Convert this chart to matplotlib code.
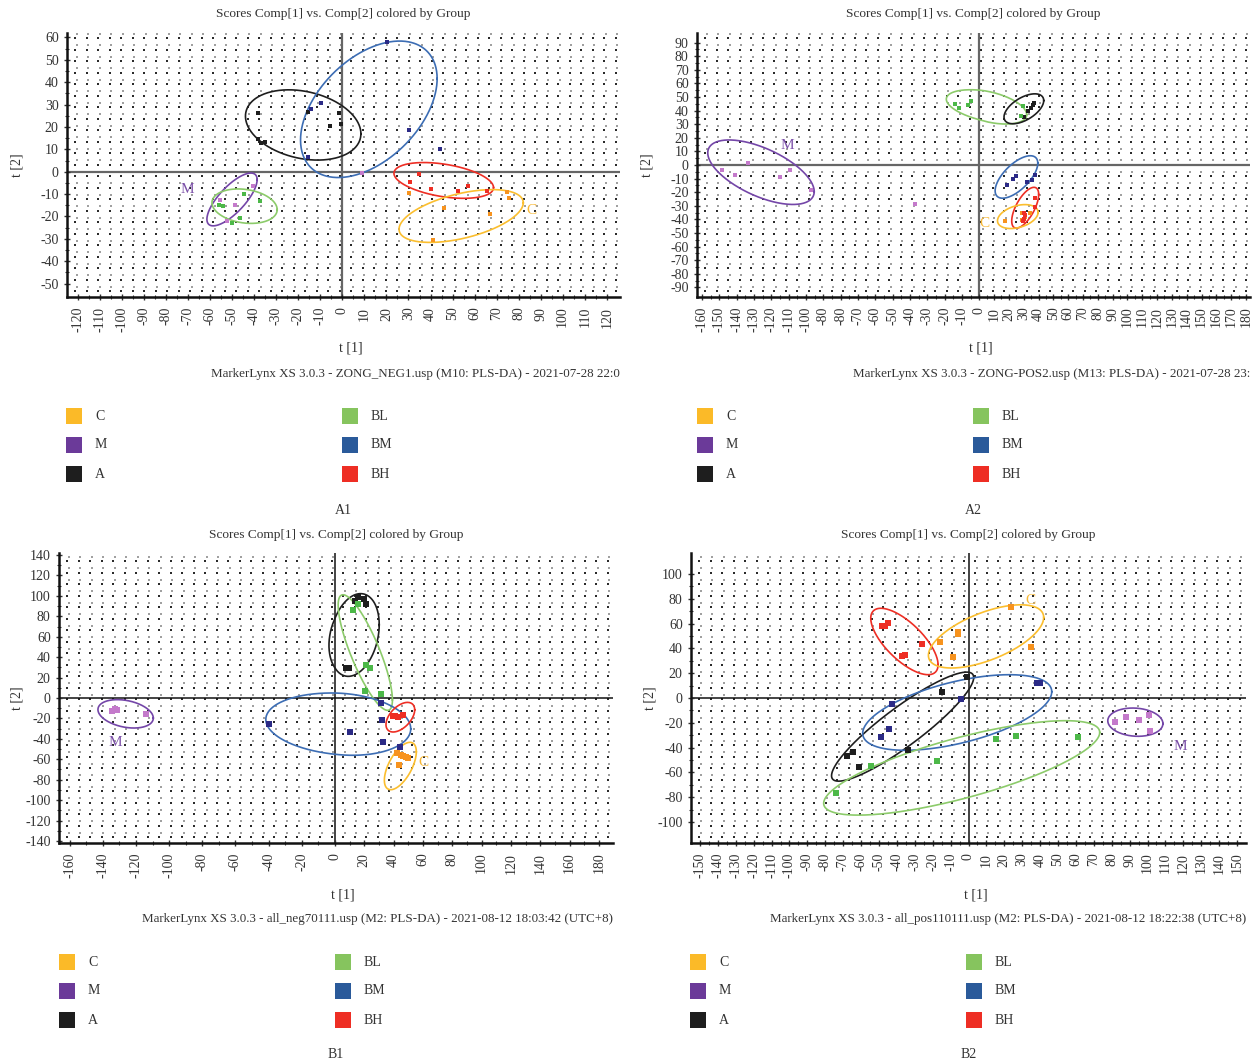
import numpy as np
import matplotlib
matplotlib.use("Agg")
import matplotlib.pyplot as plt
from matplotlib.patches import Rectangle
from matplotlib.ticker import FixedLocator

plt.rcParams['font.family'] = ['Liberation Serif', 'DejaVu Serif']

W, H = 1256, 1064

# ---------------- data ----------------
groups = ['C', 'M', 'A', 'BL', 'BM', 'BH']
legend_colors = ['#FBBA28', '#6B3A99', '#1E1E1E', '#86C45E', '#2A5A9A', '#EE2E24']
point_colors = {'C': '#F7931E', 'M': '#C47ACB', 'A': '#1E1E1E',
                'BL': '#4CB848', 'BM': '#2B2A86', 'BH': '#EE2E24'}
ellipse_colors = {'C': '#FBBE2E', 'M': '#7446A8', 'A': '#1E1E1E',
                  'BL': '#8CCB6A', 'BM': '#3C6DB4', 'BH': '#EE2E24'}

# Panel A1 scores (t[1], t[2])
a1_C = [(30.1, -9.5), (46.2, -16.2), (67, -18.9), (74.5, -9.2), (75.4, -11.8), (41, -30.4)]
a1_M = [(-40.5, -6.2), (-55.5, -12.8), (-48.7, -14.7), (-52.4, -21.9), (8.8, -0.7)]
a1_A = [(-38.1, 26.1), (-38.4, 14.5), (-37.0, 12.7), (-35.3, 13.1), (-15.8, 26.5),
        (-1.5, 26.2), (-5.6, 20.4), (-0.5, 21.2)]
a1_BL = [(-44.5, -9.8), (-37.3, -13.0), (-56.0, -14.7), (-54.2, -15.2), (-46.5, -20.5), (-50.3, -22.8)]
a1_BM = [(20.1, 57.8), (-9.9, 30.6), (-14.3, 27.9), (-15.8, 6.4), (30.3, 18.6), (44.1, 10.1)]
a1_BH = [(34.6, -0.8), (30.6, -4.4), (40.0, -7.9), (52.3, -8.5), (57.0, -6.2), (65.7, -8.6)]
# ellipses: (group, centre x, centre y, half-extent x, half-extent y, correlation)
a1_ell = [('A', -17.8, 20.9, 26.2, 15.7, -0.25), ('BM', 12.0, 27.9, 31.0, 30.5, 0.45),
          ('BH', 46.0, -3.9, 22.6, 8.0, -0.4), ('C', 53.9, -19.8, 28.2, 11.8, 0.5),
          ('M', -50.1, -12.4, 11.4, 11.8, 0.75), ('BL', -44.4, -15.4, 14.8, 7.7, -0.2)]
a1_labels = [('M', -70.3, -8.0), ('C', 85.8, -17.4)]

# Panel A2
a2_C = [(17.5, -41.5), (29, -35), (30.5, -35.5), (34.5, -35), (29, -40.5), (31, -38.5)]
a2_M = [(-148.5, -3.5), (-141.1, -7.7), (-133.6, 1.6), (-115.2, -8.9), (-109.4, -4.0),
        (-96.8, -18.2), (-37, -28.9)]
a2_A = [(37, 45.5), (36.5, 44), (35, 42), (33, 39.5), (30, 35)]
a2_BL = [(-13.8, 44.5), (-11.9, 42), (-6.7, 44), (-4.5, 47), (29.6, 43.3), (28, 36)]
a2_BM = [(25, -8), (22.5, -10.5), (18.5, -14.5), (32, -12.5), (35.5, -11), (37.5, -7.5)]
a2_BH = [(37.5, -24), (37.5, -30.5), (30.5, -35), (31, -37), (30.5, -39.5), (29.5, -41)]
a2_ell = [('BL', 6.5, 42.7, 25.5, 12.6, -0.45), ('A', 30.1, 41.3, 13.4, 11.0, 0.55),
          ('M', -125.9, -5.3, 30.7, 23.7, -0.6), ('BM', 25.1, -8.8, 14.4, 15.6, 0.65),
          ('BH', 31.0, -31.4, 9.1, 15.0, 0.65), ('C', 26.0, -37.9, 13.7, 8.8, 0.35)]
a2_labels = [('M', -110.6, 14.3), ('C', 3.8, -43.1)]

# Panel B1
b1_C = [(42.6, -53.9), (44.8, -55.5), (46.7, -56.5), (48.6, -57.8), (50, -58.7), (43.4, -65.3)]
b1_M = [(-134.5, -13.1), (-132.8, -10.4), (-131.6, -12.1), (-113.9, -15.3)]
b1_A = [(13.7, 95.3), (15.9, 98.6), (19.8, 97.3), (21.2, 92.4), (7.7, 29.7), (9.6, 29.7)]
b1_BL = [(12.4, 86.5), (15.9, 92.4), (21.2, 32.6), (23.9, 29), (20.6, 7.2), (31.6, 4.2)]
b1_BM = [(-39.5, -25.1), (10.4, -33.6), (31.6, -4.6), (32.4, -21.9), (33, -43.4), (44.5, -48.3)]
b1_BH = [(39.8, -17.3), (41.2, -18), (43.1, -18.3), (46.2, -17)]
b1_ell = [('A', 13.3, 61.7, 16.9, 40.5, 0.25), ('BL', 20.7, 44.5, 18.5, 56.6, -0.82),
          ('BM', 5.0, -25.6, 46.7, 30.5, -0.15), ('BH', 44.6, -18.8, 9.8, 14.5, 0.5),
          ('C', 44.6, -66.6, 10.9, 23.2, 0.6), ('M', -126.3, -15.5, 16.7, 13.9, -0.3)]
b1_labels = [('M', -132.6, -43.4), ('C', 60.4, -63)]

# Panel B2
b2_C = [(23.9, 73.3), (-6, 51.5), (-5.6, 52.9), (-15.9, 45.1), (-8.5, 33.3), (34.7, 41.1)]
b2_M = [(82, -19.1), (87.9, -15.6), (95, -17.4), (100.6, -14), (101.3, -26.8)]
b2_A = [(-0.7, 17.2), (-14.8, 4.8), (-34, -41.6), (-64.4, -43.2), (-67.7, -46.4), (-61, -55.8)]
b2_BL = [(-73.8, -76.5), (-54.3, -54.5), (-17.4, -51), (15.6, -32.8), (26.8, -30.3), (61, -31.7)]
b2_BM = [(38.2, 12.1), (39.8, 12.1), (-4, -0.8), (-42.7, -4.6), (-44.5, -24.7), (-48.7, -31.7)]
b2_BH = [(-48.5, 58.3), (-46.7, 58.3), (-45.2, 60.4), (-36.9, 33.6), (-35.3, 34.9), (-25.9, 43.8)]
b2_ell = [('BH', -35.8, 45.6, 18.8, 26.8, -0.7), ('C', 9.8, 49.7, 32.2, 25.5, 0.6),
          ('A', -36.8, -23.1, 39.7, 44.0, 0.9), ('BM', -6.3, -11.7, 52.8, 30.5, 0.55),
          ('BL', -3.8, -56.4, 77.1, 38.1, 0.75), ('M', 93.2, -19.5, 15.4, 11.4, -0.1)]
b2_labels = [('M', 118.5, -38.9), ('C', 34.7, 78.7)]

# tick labels
a1_xticks = list(range(-120, 121, 10))
a1_yticks = list(range(-50, 61, 10))
a2_xticks = list(range(-160, 181, 10))
a2_xticklabels = [str(v) if v != -90 else '-80' for v in a2_xticks]
a2_yticks = list(range(-90, 91, 10))
b1_xticks = list(range(-160, 181, 20))
b1_yticks = list(range(-140, 141, 20))
b2_xticks = list(range(-150, 151, 10))
b2_yticks = list(range(-100, 101, 20))

title = 'Scores Comp[1] vs. Comp[2] colored by Group'
footers = ['MarkerLynx XS 3.0.3 - ZONG_NEG1.usp (M10: PLS-DA) - 2021-07-28 22:0',
           'MarkerLynx XS 3.0.3 - ZONG-POS2.usp (M13: PLS-DA) - 2021-07-28 23:',
           'MarkerLynx XS 3.0.3 - all_neg70111.usp (M2: PLS-DA) - 2021-08-12 18:03:42 (UTC+8)',
           'MarkerLynx XS 3.0.3 - all_pos110111.usp (M2: PLS-DA) - 2021-08-12 18:22:38 (UTC+8)']
panel_names = ['A1', 'A2', 'B1', 'B2']

# ---------------- figure ----------------
fig = plt.figure(figsize=(W / 100, H / 100), dpi=100)
TXT = '#333333'


def fx(px):
    return px / W


def fy(py):
    return 1 - py / H


def piecewise(kl):
    def fwd(x):
        x = np.asarray(x, dtype=float)
        return np.where(x < 0, x * kl, x)

    def inv(y):
        y = np.asarray(y, dtype=float)
        return np.where(y < 0, y / kl, y)
    return fwd, inv


def dot_grid(ax, wpx, hpx):
    xs = np.arange(8, wpx, 11.5)
    ys = np.arange(6, hpx, 11.5)
    gx, gy = np.meshgrid(xs, ys)
    ax.scatter(gx.ravel() / wpx, gy.ravel() / hpx, s=0.8, marker='s', c='#2a2a2a',
               linewidths=0, transform=ax.transAxes, zorder=0.5)
    ax.scatter((gx.ravel() + 1.5) / wpx, (gy.ravel() + 4.5) / hpx, s=0.7, marker='s', c='#a0a0a0',
               linewidths=0, transform=ax.transAxes, zorder=0.5)


def draw_ellipse(ax, g, cx, cy, hx, hy, rho, lw):
    t = np.linspace(0, 2 * np.pi, 400)
    x = cx + hx * np.cos(t)
    y = cy + hy * (rho * np.cos(t) + np.sqrt(1 - rho ** 2) * np.sin(t))
    ax.plot(x, y, color=ellipse_colors[g], lw=lw, zorder=3)


panels = [
    dict(box=(67, 620, 33, 297), xlim=(-125, 126), ylim=(-56, 62), kl=None,
         xt=a1_xticks, xtl=None, yt=a1_yticks, xm=5, ym=5,
         pts=[a1_C, a1_M, a1_A, a1_BL, a1_BM, a1_BH],
         ell=a1_ell, lab=a1_labels, ms=5.5, zc='#666666', zlw=1.6, title_y=14, ylab_x=17,
         xlab_y=348, foot_y=374, leg=(66, 342, [416, 445, 474]), name_y=510),
    dict(box=(697, 1250, 33, 297), xlim=(-162.8, 182.7), ylim=(-97, 97), kl=1.17,
         xt=a2_xticks, xtl=a2_xticklabels, yt=a2_yticks, xm=5, ym=5,
         pts=[a2_C, a2_M, a2_A, a2_BL, a2_BM, a2_BH],
         ell=a2_ell, lab=a2_labels, ms=5.5, zc='#666666', zlw=1.6, title_y=14, ylab_x=647,
         xlab_y=348, foot_y=374, leg=(697, 973, [416, 445, 474]), name_y=510),
    dict(box=(59, 613, 553, 843), xlim=(-166.5, 189.6), ylim=(-142, 142), kl=1.13,
         xt=b1_xticks, xtl=None, yt=b1_yticks, xm=10, ym=10,
         pts=[b1_C, b1_M, b1_A, b1_BL, b1_BM, b1_BH],
         ell=b1_ell, lab=b1_labels, ms=22, zc='#111111', zlw=1.1, title_y=535, ylab_x=17,
         xlab_y=895, foot_y=919, leg=(59, 335, [962, 991, 1020]), name_y=1055),
    dict(box=(691, 1246, 553, 843), xlim=(-155, 155), ylim=(-117, 117), kl=None,
         xt=b2_xticks, xtl=None, yt=b2_yticks, xm=5, ym=10,
         pts=[b2_C, b2_M, b2_A, b2_BL, b2_BM, b2_BH],
         ell=b2_ell, lab=b2_labels, ms=22, zc='#111111', zlw=1.1, title_y=535, ylab_x=650,
         xlab_y=895, foot_y=919, leg=(690, 966, [962, 991, 1020]), name_y=1055),
]

for i, p in enumerate(panels):
    l, r, t, b = p['box']
    ax = fig.add_axes([fx(l), fy(b), (r - l) / W, (b - t) / H])
    if p['kl'] is not None:
        ax.set_xscale('function', functions=piecewise(p['kl']))
    ax.set_xlim(*p['xlim'])
    ax.set_ylim(*p['ylim'])
    dot_grid(ax, r - l, b - t)

    for s in ['top', 'right']:
        ax.spines[s].set_visible(False)
    for s in ['left', 'bottom']:
        ax.spines[s].set_linewidth(1.8)
        ax.spines[s].set_color('#111111')

    ax.axhline(0, color=p['zc'], lw=p['zlw'], zorder=1)
    ax.axvline(0, color=p['zc'], lw=p['zlw'], zorder=1)

    ax.set_xticks(p['xt'])
    if p['xtl'] is not None:
        ax.set_xticklabels(p['xtl'])
    else:
        ax.set_xticklabels([str(v) for v in p['xt']])
    ax.set_yticks(p['yt'])
    ax.set_yticklabels([str(v) for v in p['yt']])
    xmin = [v + p['xm'] for v in p['xt'][:-1]] if p['xm'] * 2 == (p['xt'][1] - p['xt'][0]) else []
    ymin = [v + p['ym'] for v in p['yt'][:-1]] if p['ym'] * 2 == (p['yt'][1] - p['yt'][0]) else []
    ax.xaxis.set_minor_locator(FixedLocator(xmin))
    ax.yaxis.set_minor_locator(FixedLocator(ymin))
    ax.tick_params(axis='x', which='major', labelrotation=90, labelsize=10, colors=TXT,
                   length=4, width=1, direction='inout', pad=5)
    ax.tick_params(axis='y', which='major', labelsize=10, colors=TXT, length=4, width=1,
                   direction='inout', pad=4)
    ax.tick_params(which='minor', length=3, width=0.8, direction='inout', colors='#333333')

    for g, data in zip(groups, p['pts']):
        arr = np.array(data)
        ax.scatter(arr[:, 0], arr[:, 1], s=p['ms'], marker='s', c=point_colors[g],
                   linewidths=0, zorder=4)
    for (g, cx, cy, hx, hy, rho) in p['ell']:
        draw_ellipse(ax, g, cx, cy, hx, hy, rho, 1.2)
    for (txt, x, y) in p['lab']:
        col = '#7B4FA8' if txt == 'M' else '#F7B733'
        ax.text(x, y, txt, color=col, fontsize=11, ha='center', va='center', zorder=5)

    cxp = (l + r) / 2
    fig.text(fx(cxp), fy(p['title_y']), title, ha='center', va='center', fontsize=9.6, color=TXT)
    fig.text(fx(p['ylab_x']), fy((t + b) / 2), 't [2]', rotation=90, ha='center', va='center',
             fontsize=10, color=TXT)
    fig.text(fx(cxp + 7), fy(p['xlab_y']), 't [1]', ha='center', va='center', fontsize=10, color=TXT)
    fig.text(fx(r), fy(p['foot_y']), footers[i], ha='right', va='center', fontsize=9.35, color=TXT)

    lx1, lx2, rows = p['leg']
    for k, g in enumerate(groups):
        col_x = lx1 if k < 3 else lx2
        row_y = rows[k % 3]
        fig.add_artist(Rectangle((fx(col_x), fy(row_y + 8)), 16 / W, 16 / H,
                                 transform=fig.transFigure, facecolor=legend_colors[k],
                                 edgecolor='none'))
        fig.text(fx(col_x + 29), fy(row_y), g, ha='left', va='center', fontsize=10, color=TXT)

    fig.text(fx(cxp), fy(p['name_y']), panel_names[i], ha='center', va='center',
             fontsize=10, color=TXT)

fig.savefig('out.png', dpi=100)
